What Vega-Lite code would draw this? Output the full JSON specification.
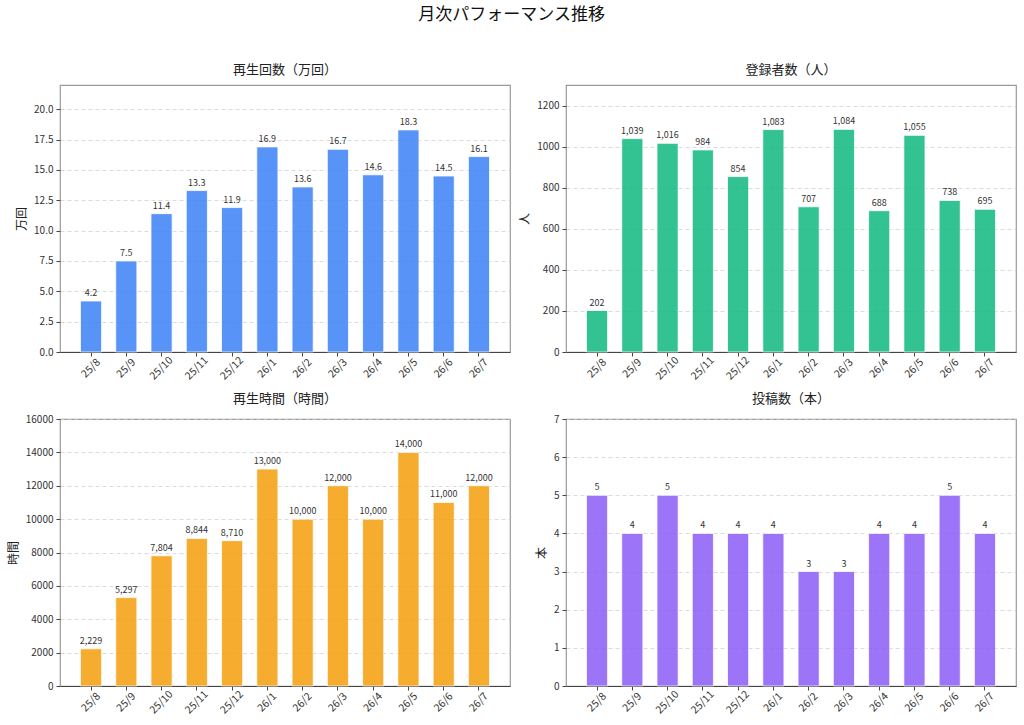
{
  "$schema": "https://vega.github.io/schema/vega-lite/v6.json",
  "background": "white",
  "padding": {"left": 6, "top": 6, "right": 5, "bottom": 5},
  "title": {
    "text": "月次パフォーマンス推移",
    "fontSize": 17,
    "fontWeight": "normal",
    "color": "#111",
    "anchor": "middle",
    "offset": 39
  },
  "data": {
    "values": [
      {"month": "25/8", "views": 4.2, "subs": 202, "hours": 2229, "posts": 5},
      {"month": "25/9", "views": 7.5, "subs": 1039, "hours": 5297, "posts": 4},
      {"month": "25/10", "views": 11.4, "subs": 1016, "hours": 7804, "posts": 5},
      {"month": "25/11", "views": 13.3, "subs": 984, "hours": 8844, "posts": 4},
      {"month": "25/12", "views": 11.9, "subs": 854, "hours": 8710, "posts": 4},
      {"month": "26/1", "views": 16.9, "subs": 1083, "hours": 13000, "posts": 4},
      {"month": "26/2", "views": 13.6, "subs": 707, "hours": 10000, "posts": 3},
      {"month": "26/3", "views": 16.7, "subs": 1084, "hours": 12000, "posts": 3},
      {"month": "26/4", "views": 14.6, "subs": 688, "hours": 10000, "posts": 4},
      {"month": "26/5", "views": 18.3, "subs": 1055, "hours": 14000, "posts": 4},
      {"month": "26/6", "views": 14.5, "subs": 738, "hours": 11000, "posts": 5},
      {"month": "26/7", "views": 16.1, "subs": 695, "hours": 12000, "posts": 4}
    ]
  },
  "columns": 2,
  "spacing": {"row": 9, "column": 7},
  "concat": [
    {
      "title": {"text": "再生回数（万回）"},
      "width": 450,
      "height": 267,
      "encoding": {
        "x": {"field": "month", "type": "nominal", "sort": null, "title": null,
          "scale": {"paddingInner": 0.4, "paddingOuter": 0.58}},
        "y": {"field": "views", "type": "quantitative", "title": "万回",
          "scale": {"domain": [0, 22], "nice": false},
          "axis": {"values": [0, 2.5, 5, 7.5, 10, 12.5, 15, 17.5, 20], "format": ".1f"}}
      },
      "layer": [
        {"mark": {"type": "bar", "color": "#3B82F6", "opacity": 0.85, "stroke": "white", "strokeWidth": 0.8}},
        {"mark": {"type": "text", "baseline": "bottom", "dy": -3, "fontSize": 9, "color": "#333"},
          "encoding": {"text": {"field": "views", "format": ".1f"}}}
      ]
    },
    {
      "title": {"text": "登録者数（人）"},
      "width": 450,
      "height": 267,
      "encoding": {
        "x": {"field": "month", "type": "nominal", "sort": null, "title": null,
          "scale": {"paddingInner": 0.4, "paddingOuter": 0.58}},
        "y": {"field": "subs", "type": "quantitative", "title": "人",
          "scale": {"domain": [0, 1300], "nice": false},
          "axis": {"values": [0, 200, 400, 600, 800, 1000, 1200], "format": "d"}}
      },
      "layer": [
        {"mark": {"type": "bar", "color": "#10B981", "opacity": 0.85, "stroke": "white", "strokeWidth": 0.8}},
        {"mark": {"type": "text", "baseline": "bottom", "dy": -3, "fontSize": 9, "color": "#333"},
          "encoding": {"text": {"field": "subs", "format": ","}}}
      ]
    },
    {
      "title": {"text": "再生時間（時間）"},
      "width": 450,
      "height": 267,
      "encoding": {
        "x": {"field": "month", "type": "nominal", "sort": null, "title": null,
          "scale": {"paddingInner": 0.4, "paddingOuter": 0.58}},
        "y": {"field": "hours", "type": "quantitative", "title": "時間",
          "scale": {"domain": [0, 16000], "nice": false},
          "axis": {"values": [0, 2000, 4000, 6000, 8000, 10000, 12000, 14000, 16000], "format": "d"}}
      },
      "layer": [
        {"mark": {"type": "bar", "color": "#F59E0B", "opacity": 0.85, "stroke": "white", "strokeWidth": 0.8}},
        {"mark": {"type": "text", "baseline": "bottom", "dy": -3, "fontSize": 9, "color": "#333"},
          "encoding": {"text": {"field": "hours", "format": ","}}}
      ]
    },
    {
      "title": {"text": "投稿数（本）"},
      "width": 450,
      "height": 267,
      "encoding": {
        "x": {"field": "month", "type": "nominal", "sort": null, "title": null,
          "scale": {"paddingInner": 0.4, "paddingOuter": 0.58}},
        "y": {"field": "posts", "type": "quantitative", "title": "本",
          "scale": {"domain": [0, 7], "nice": false},
          "axis": {"values": [0, 1, 2, 3, 4, 5, 6, 7], "format": "d"}}
      },
      "layer": [
        {"mark": {"type": "bar", "color": "#8B5CF6", "opacity": 0.85, "stroke": "white", "strokeWidth": 0.8}},
        {"mark": {"type": "text", "baseline": "bottom", "dy": -3, "fontSize": 9, "color": "#333"},
          "encoding": {"text": {"field": "posts", "format": "d"}}}
      ]
    }
  ],
  "config": {
    "font": "Noto Sans CJK JP",
    "view": {"stroke": "#999", "strokeWidth": 1.2},
    "title": {"fontSize": 13, "fontWeight": "normal", "color": "#222", "offset": 8},
    "axis": {
      "domain": false,
      "tickColor": "#444",
      "tickSize": 4,
      "labelFontSize": 10,
      "labelColor": "#333",
      "titleFontSize": 12,
      "titleFontWeight": "normal",
      "titleColor": "#222"
    },
    "axisX": {
      "grid": false,
      "domain": true,
      "domainColor": "#444",
      "labelAngle": -45,
      "labelAlign": "center",
      "labelBaseline": "middle",
      "labelPadding": 12,
      "labelFontSize": 10.5
    },
    "axisY": {
      "grid": true,
      "gridColor": "#ccc",
      "gridDash": [4, 3],
      "gridOpacity": 0.7,
      "labelPadding": 3,
      "titlePadding": 5
    }
  }
}
